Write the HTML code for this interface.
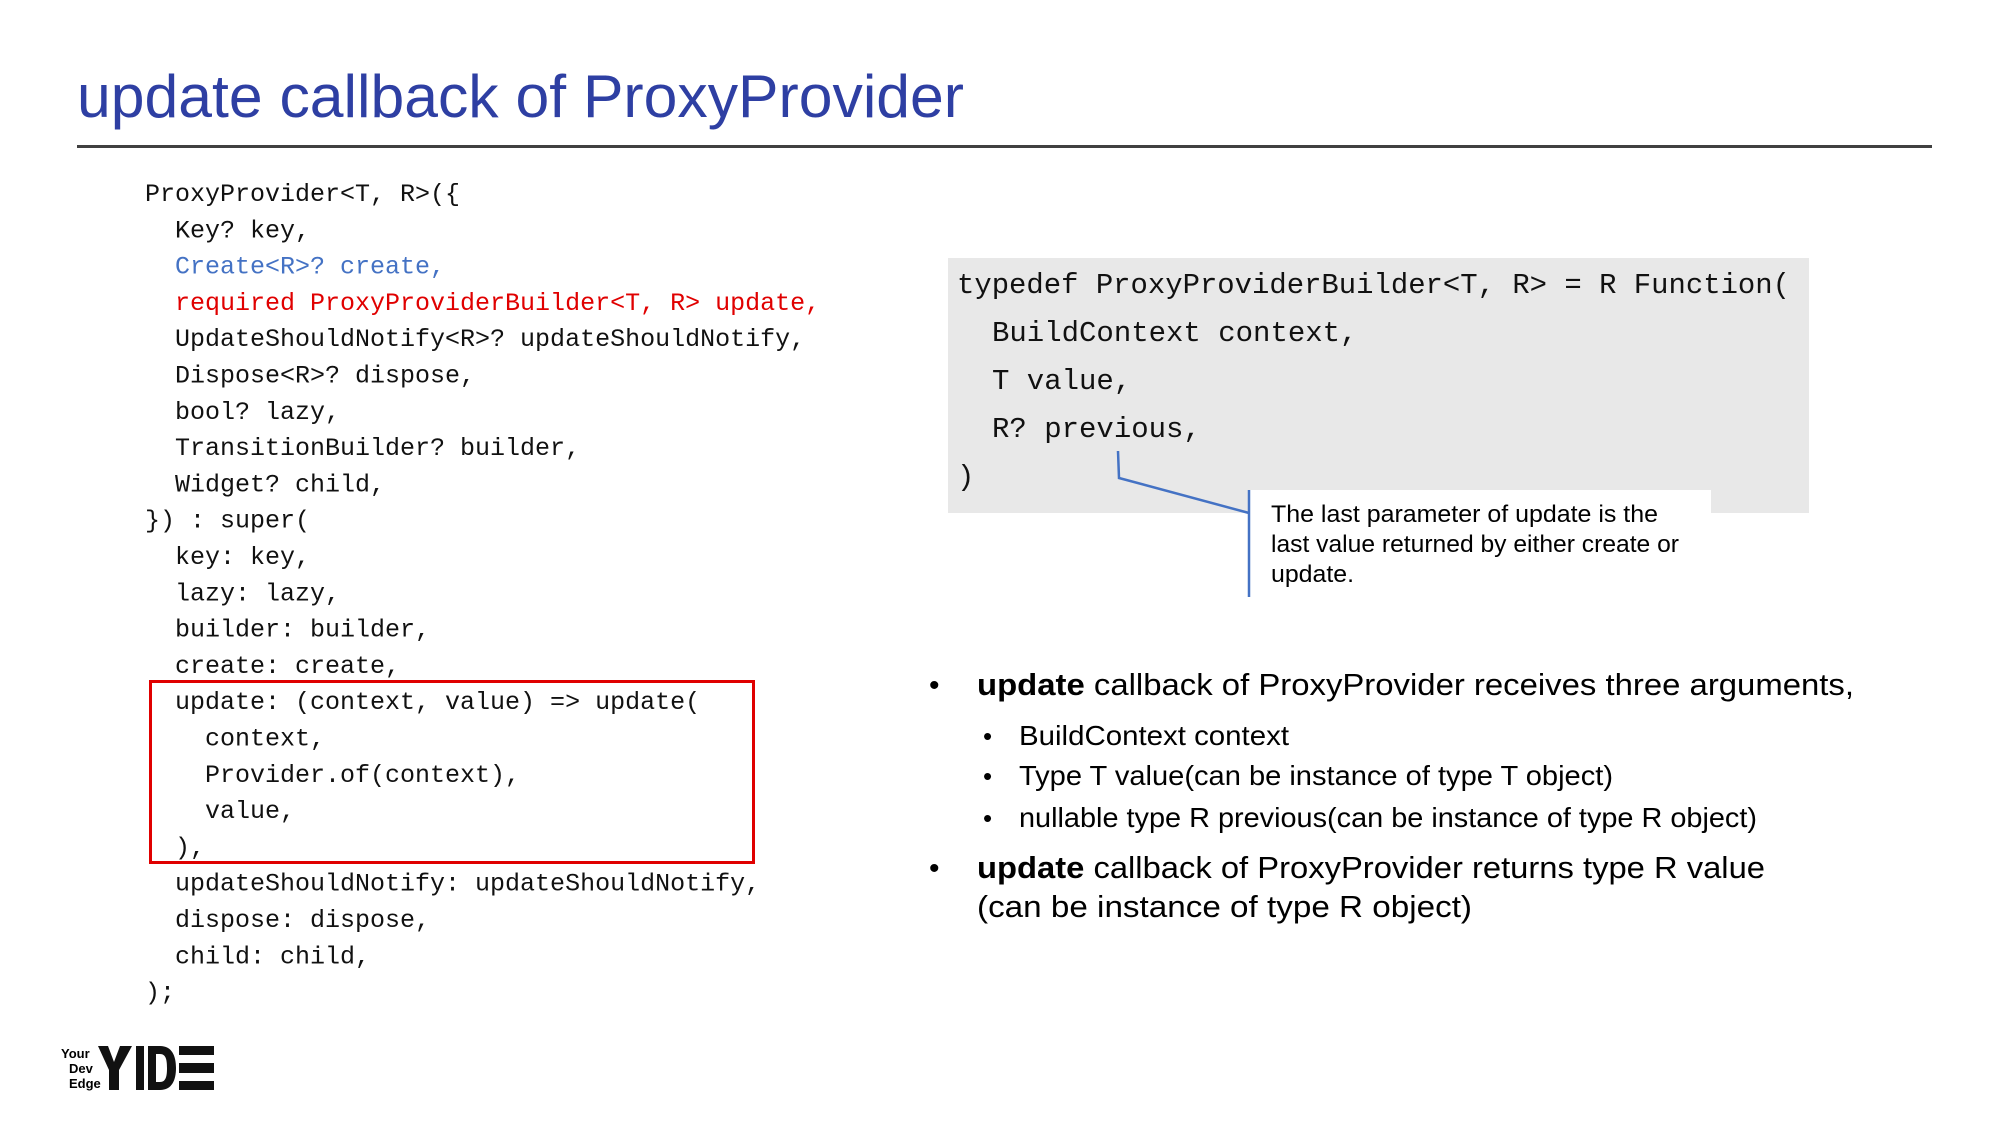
<!DOCTYPE html>
<html><head><meta charset="utf-8"><style>
html,body{margin:0;padding:0;background:#fff}
svg{display:block}
.m{font-family:"Liberation Mono",monospace;font-size:25px;fill:#111}
.t{font-family:"Liberation Mono",monospace;font-size:29px;fill:#111}
.s{font-family:"Liberation Sans",sans-serif;fill:#000}
</style></head><body>
<svg width="2000" height="1125" viewBox="0 0 2000 1125" xmlns="http://www.w3.org/2000/svg">
<text x="77" y="117" class="s" style="font-size:60px;fill:#2e3fa3" textLength="887" lengthAdjust="spacingAndGlyphs">update callback of ProxyProvider</text>
<rect x="77" y="145" width="1855" height="3" fill="#404040"/>

<g class="m">
<text x="145" y="201">ProxyProvider&lt;T, R&gt;({</text>
<text x="175" y="237.3">Key? key,</text>
<text x="175" y="273.6" style="fill:#4472c4">Create&lt;R&gt;? create,</text>
<text x="175" y="309.9" style="fill:#e00000">required ProxyProviderBuilder&lt;T, R&gt; update,</text>
<text x="175" y="346.2">UpdateShouldNotify&lt;R&gt;? updateShouldNotify,</text>
<text x="175" y="382.5">Dispose&lt;R&gt;? dispose,</text>
<text x="175" y="418.8">bool? lazy,</text>
<text x="175" y="455.1">TransitionBuilder? builder,</text>
<text x="175" y="491.4">Widget? child,</text>
<text x="145" y="527.7">}) : super(</text>
<text x="175" y="564">key: key,</text>
<text x="175" y="600.3">lazy: lazy,</text>
<text x="175" y="636.6">builder: builder,</text>
<text x="175" y="672.9">create: create,</text>
<text x="175" y="709.2">update: (context, value) =&gt; update(</text>
<text x="205" y="745.5">context,</text>
<text x="205" y="781.8">Provider.of(context),</text>
<text x="205" y="818.1">value,</text>
<text x="175" y="854.4">),</text>
<text x="175" y="890.7">updateShouldNotify: updateShouldNotify,</text>
<text x="175" y="927">dispose: dispose,</text>
<text x="175" y="963.3">child: child,</text>
<text x="145" y="999.6">);</text>
</g>
<rect x="150.5" y="681.5" width="603" height="181" fill="none" stroke="#e00000" stroke-width="3"/>

<rect x="948" y="258" width="861" height="255" fill="#e8e8e8"/>
<g class="t">
<text x="957" y="293" textLength="833" lengthAdjust="spacingAndGlyphs">typedef ProxyProviderBuilder&lt;T, R&gt; = R Function(</text>
<text x="992" y="341">BuildContext context,</text>
<text x="992" y="389">T value,</text>
<text x="992" y="437">R? previous,</text>
<text x="957" y="485">)</text>
</g>
<rect x="1250" y="490" width="461" height="110" fill="#fff"/>
<polyline points="1118,451 1119,478 1249,513" fill="none" stroke="#4472c4" stroke-width="2.5"/>
<line x1="1249" y1="490" x2="1249" y2="597" stroke="#4472c4" stroke-width="2.5"/>
<g class="s" style="font-size:24px">
<text x="1271" y="522" textLength="387" lengthAdjust="spacingAndGlyphs">The last parameter of update is the</text>
<text x="1271" y="552" textLength="408" lengthAdjust="spacingAndGlyphs">last value returned by either create or</text>
<text x="1271" y="582" textLength="83" lengthAdjust="spacingAndGlyphs">update.</text>
</g>

<g class="s">
<text x="929" y="695" style="font-size:30px">•</text>
<text x="977" y="695" style="font-size:31px" textLength="877" lengthAdjust="spacingAndGlyphs"><tspan font-weight="bold">update</tspan> callback of ProxyProvider receives three arguments,</text>
<text x="983" y="745" style="font-size:26px">•</text>
<text x="1019" y="745" style="font-size:28px" textLength="270" lengthAdjust="spacingAndGlyphs">BuildContext context</text>
<text x="983" y="785" style="font-size:26px">•</text>
<text x="1019" y="785" style="font-size:28px" textLength="594" lengthAdjust="spacingAndGlyphs">Type T value(can be instance of type T object)</text>
<text x="983" y="827" style="font-size:26px">•</text>
<text x="1019" y="827" style="font-size:28px" textLength="738" lengthAdjust="spacingAndGlyphs">nullable type R previous(can be instance of type R object)</text>
<text x="929" y="878" style="font-size:30px">•</text>
<text x="977" y="878" style="font-size:31px" textLength="788" lengthAdjust="spacingAndGlyphs"><tspan font-weight="bold">update</tspan> callback of ProxyProvider returns type R value</text>
<text x="977" y="917" style="font-size:31px" textLength="495" lengthAdjust="spacingAndGlyphs">(can be instance of type R object)</text>
</g>

<g fill="#111">
<text x="61" y="1058" class="s" style="font-size:13px;font-weight:bold">Your</text>
<text x="69" y="1073" class="s" style="font-size:13px;font-weight:bold">Dev</text>
<text x="69" y="1088" class="s" style="font-size:13px;font-weight:bold">Edge</text>
<polygon points="98,1046 108,1046 114,1062 120,1046 132,1046 119,1070 119,1090 109,1090 109,1070"/>
<rect x="136" y="1046" width="8" height="44"/>
<path d="M148,1046 H160 C172,1046 176,1056 176,1068 C176,1080 172,1090 160,1090 H148 Z M156,1054 V1082 H160 C166,1082 167,1076 167,1068 C167,1060 166,1054 160,1054 Z" fill-rule="evenodd"/>
<rect x="179" y="1046" width="35" height="9"/>
<rect x="179" y="1063" width="35" height="10"/>
<rect x="179" y="1081" width="35" height="9"/>
</g>
</svg>
</body></html>
